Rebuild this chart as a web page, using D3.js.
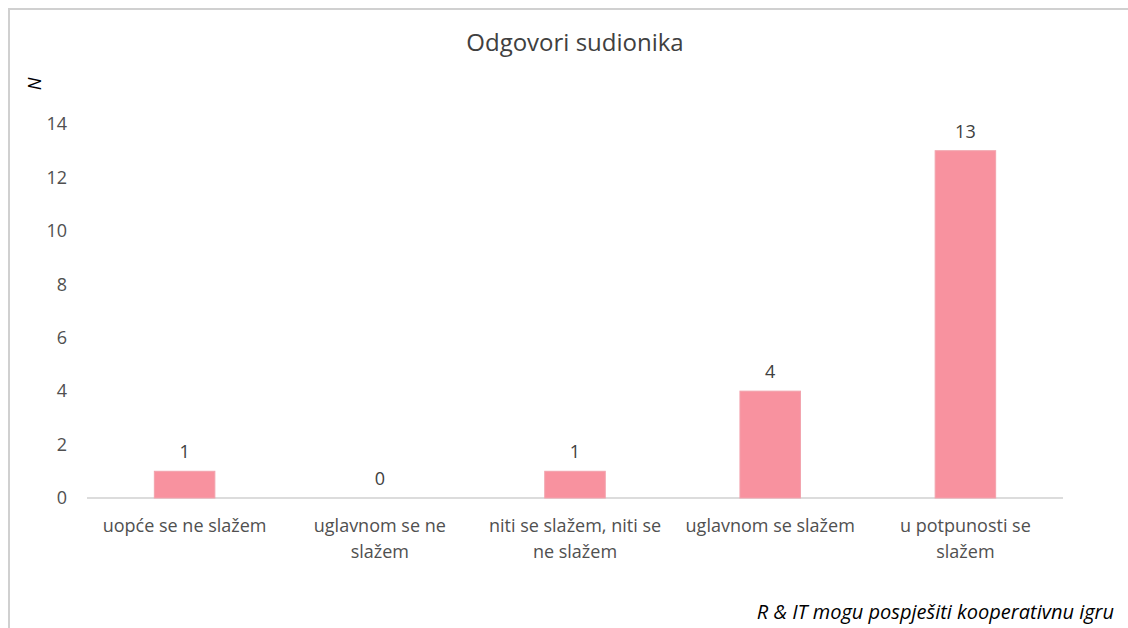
<!DOCTYPE html>
<meta charset="utf-8">
<style>
body {
    margin: 0;
    background: #fff;
}
text {
    font-family: "Open Sans", "Liberation Sans", sans-serif;
    fill: #404040;
}
.tick text {
    font-size: 18px;
    fill: #505050;
}
</style>
<body>
<script src="https://cdn.jsdelivr.net/npm/d3@7"></script>
<script>
    const width = 1128;
    const height = 628;

    const categories = ["uopće se ne slažem", "uglavnom se ne slažem", "niti se slažem, niti se ne slažem", "uglavnom se slažem", "u potpunosti se slažem"];
    const counts = [1, 0, 1, 4, 13];
    const yTicks = [0, 2, 4, 6, 8, 10, 12, 14];

    const margin = {left: 87, right: 65, top: 124, bottom: 130};

    const svg = d3.select("body").append("svg")
        .attr("width", width)
        .attr("height", height);

    // chart frame
    svg.append("rect")
        .attr("x", 9)
        .attr("y", 9)
        .attr("width", width + 20)
        .attr("height", height + 20)
        .attr("fill", "#fff")
        .attr("stroke", "#d0d0d0")
        .attr("stroke-width", 2);

    const x = d3.scaleBand()
        .domain(categories)
        .range([margin.left, width - margin.right])
        .paddingInner(0.69)
        .paddingOuter(0.345);

    const y = d3.scaleLinear()
        .domain([0, 14])
        .range([height - margin.bottom, margin.top]);

    svg.append("text")
        .attr("x", 575)
        .attr("y", 51)
        .attr("text-anchor", "middle")
        .style("font-size", "24px")
        .text("Odgovori sudionika");

    svg.append("text")
        .attr("transform", "translate(41,84) rotate(-90)")
        .attr("text-anchor", "middle")
        .style("font-size", "18px")
        .style("font-style", "italic")
        .style("fill", "#000")
        .text("N");

    const yAxis = svg.append("g")
        .attr("transform", `translate(${margin.left},0)`)
        .call(d3.axisLeft(y).tickValues(yTicks).tickSize(0).tickPadding(20));
    yAxis.select(".domain").remove();

    const xAxis = svg.append("g")
        .attr("transform", `translate(0,${y(0)})`)
        .call(d3.axisBottom(x).tickSize(0).tickPadding(21));
    xAxis.select(".domain")
        .attr("stroke", "#d0d0d0")
        .attr("stroke-width", 1.5)
        .attr("d", `M${margin.left},0H${width - margin.right}`);
    xAxis.selectAll(".tick text").call(wrap, 182);

    svg.append("g").selectAll("rect")
        .data(counts)
        .join("rect")
        .attr("x", (d, i) => x(categories[i]))
        .attr("y", d => y(d))
        .attr("width", x.bandwidth())
        .attr("height", d => y(0) - y(d))
        .attr("fill", "#f8929f")
        .attr("stroke", "#f2a3ad")
        .attr("stroke-width", 1);

    svg.append("g").selectAll("text")
        .data(counts)
        .join("text")
        .attr("x", (d, i) => x(categories[i]) + x.bandwidth() / 2)
        .attr("y", d => y(d) - 13)
        .attr("text-anchor", "middle")
        .style("font-size", "18px")
        .text(d => d);

    svg.append("text")
        .attr("x", 1114)
        .attr("y", 619)
        .attr("text-anchor", "end")
        .style("font-size", "20px")
        .style("font-style", "italic")
        .style("fill", "#000")
        .text("R & IT mogu pospješiti kooperativnu igru");

    function wrap(texts, maxWidth) {
        texts.each(function() {
            const t = d3.select(this);
            const words = t.text().split(" ");
            const dy = t.attr("dy");
            t.text(null);
            let line = [];
            let tspan = t.append("tspan").attr("x", 0).attr("dy", dy);
            for (const w of words) {
                line.push(w);
                tspan.text(line.join(" "));
                if (tspan.node().getComputedTextLength() > maxWidth && line.length > 1) {
                    line.pop();
                    tspan.text(line.join(" "));
                    line = [w];
                    tspan = t.append("tspan").attr("x", 0).attr("dy", "1.45em").text(w);
                }
            }
        });
    }
</script>
</body>
